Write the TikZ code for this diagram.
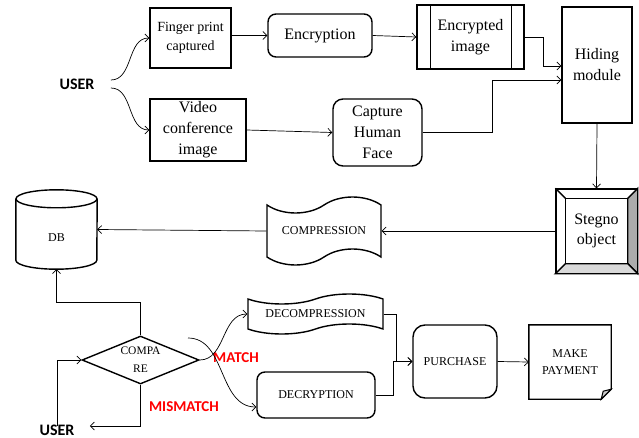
\documentclass[tikz,border=0pt]{standalone}
\usepackage{fontspec}
\setmainfont{Liberation Serif}
\newfontfamily\userfont{Carlito}
\usepackage{tikz}
\usetikzlibrary{shapes,arrows.meta,calc}

\tikzset{
  box/.style={draw, line width=1.4pt, align=center, inner sep=0pt},
  rbox/.style={box, rounded corners=8pt},
  arr/.style={-{Straight Barb[length=4pt,width=8pt]}, line width=0.7pt},
  word/.style={font=\userfont\bfseries\fontsize{16}{18}\selectfont},
  redword/.style={font=\userfont\bfseries\fontsize{15}{17}\selectfont, text=red},
  big/.style={font=\fontsize{16}{21}\selectfont},
  small/.style={font=\fontsize{12}{17}\selectfont},
}

\begin{document}
\begin{tikzpicture}[x=1pt,y=-1pt]
\useasboundingbox (0,0) rectangle (639,438);
% Parameters
\def\bev{10} % bevel of the stegno box
\def\fold{10} % folded corner of the payment note
\def\cap{9} % half height of the cylinder lid

% Users
\node[word] (usera) at (77,84) {USER};
\node[word] (userb) at (57,430) {USER};

% Top row
\node[box, minimum width=81pt, minimum height=60pt, font=\fontsize{14}{19}\selectfont] (finger) at (190.5,38) {Finger print\\captured};
\node[rbox, minimum width=104pt, minimum height=43pt, big] (encr) at (320,35.5) {Encryption};
\node[box, minimum width=107pt, minimum height=64pt, big] (encimg) at (470.5,37) {Encrypted\\image};
\draw[line width=1.4pt] ([xshift=14pt]encimg.north west) -- ([xshift=14pt]encimg.south west);
\draw[line width=1.4pt] ([xshift=-13pt]encimg.north east) -- ([xshift=-13pt]encimg.south east);
\node[box, minimum width=70pt, minimum height=116pt, big] (hiding) at (597,65) {Hiding\\module};

% Second row
\node[box, minimum width=96pt, minimum height=62pt, big] (video) at (198,130) {Video\\conference\\image};
\node[rbox, rounded corners=10pt, minimum width=89pt, minimum height=67pt, big] (face) at (377.5,132.5) {Capture\\Human\\Face};

% Stegno object with bevel
\node[box, minimum width=81pt, minimum height=84pt, font=\fontsize{16}{20}\selectfont] (stegno) at (596.5,231) {Stegno\\object};
\filldraw[line width=1.4pt, fill=gray!65] (stegno.north east) -- (stegno.south east) -- ++(-\bev,-\bev) -- ($(stegno.north east)+(-\bev,\bev)$) -- cycle;
\filldraw[line width=1.4pt, fill=gray!30] (stegno.south west) -- (stegno.south east) -- ++(-\bev,-\bev) -- ($(stegno.south west)+(\bev,-\bev)$) -- cycle;
\draw[line width=1.4pt] (stegno.north west) -- ++(\bev,\bev);
\draw[line width=1.4pt] ($(stegno.north west)+(\bev,\bev)$) rectangle ($(stegno.south east)+(-\bev,-\bev)$);

% Storage row
\node[box, tape, tape bend height=16pt, minimum width=114pt, minimum height=68pt, small] (compr) at (324,231) {COMPRESSION};
\node[inner sep=0pt, minimum width=81pt, minimum height=79pt, text height=24pt, text depth=0pt, small] (db) at (56.5,229.5) {DB};
\draw[line width=1.4pt] ($(db.north)+(0,\cap)$) ellipse [x radius=40.5pt, y radius=\cap pt];
\draw[line width=1.4pt] ($(db.north west)+(0,\cap)$) -- ($(db.south west)+(0,-\cap)$) arc[start angle=180, end angle=360, x radius=40.5pt, y radius=\cap pt] -- ($(db.north east)+(0,\cap)$);

% Bottom part
\node[box, diamond, aspect=2.4, minimum width=117pt, minimum height=48pt, font=\fontsize{11.5}{18}\selectfont] (cmp) at (140.5,360) {COMPA\\RE};
\node[box, tape, tape bend height=10pt, minimum width=135pt, minimum height=40pt, small] (decomp) at (315.5,314) {DECOMPRESSION};
\node[rbox, minimum width=118pt, minimum height=46pt, small] (decr) at (316,395) {DECRYPTION};
\node[rbox, rounded corners=12pt, minimum width=84pt, minimum height=73pt, small] (buy) at (455,361.5) {PURCHASE};
\node[align=center, inner sep=0pt, minimum width=82pt, minimum height=74pt, small] (pay) at (570,362) {MAKE\\PAYMENT};
\draw[line width=1.4pt] (pay.north west) -- (pay.north east) -- ($(pay.south east)+(0,-\fold)$) -- ($(pay.south east)+(-\fold,0)$) -- (pay.south west) -- cycle;
\filldraw[line width=1pt, fill=gray!40] ($(pay.south east)+(0,-\fold)$) -- ($(pay.south east)+(-8,-8)$) -- ($(pay.south east)+(-\fold,0)$) -- cycle;

% Labels
\node[redword] (match) at (236,358) {MATCH};
\node[redword] (mismatch) at (184,407) {MISMATCH};
\coordinate (mfork) at (188,338);

% Connectors, top
\draw[arr] ([xshift=13pt,yshift=4pt]usera.east) to[out=0,in=180] (finger.west);
\draw[arr] ([xshift=13pt,yshift=-4pt]usera.east) to[out=0,in=180] (video.west);
\draw[arr] (finger.east |- encr.west) -- (encr.west);
\draw[arr] (encr.east) -- (encimg.west);
\draw[arr] (encimg.east) -- ++(19,0) |- ([yshift=-1pt]hiding.west);
\draw[arr] (video.east) -- (face.west);
\draw[arr] (face.east) -- ++(70,0) |- ([yshift=-15pt]hiding.west);
\draw[arr] (hiding.south) -- (stegno.north);
\draw[arr] (stegno.west) -- (compr.east);
\draw[arr] (compr.west) -- (db.east);

% Connectors, bottom
\draw[arr] (cmp.north) -- ++(0,-33) -| (db.south);
\draw[arr] (cmp.south) |- ([xshift=12pt,yshift=4pt]userb.east);
\draw[arr] ([yshift=-5pt]userb.north) |- (cmp.west);
\draw[arr] (cmp.east) to[out=0,in=180] (decomp.west);
\draw[arr] (mfork) to[out=0,in=180] ([yshift=-12pt]decr.west);
\draw[arr] (decomp.east) -- ++(13,0) |- (buy.west);
\draw[arr] (decr.east) -- ++(18,0) |- (buy.west);
\draw[arr] (buy.east) -- (pay.west);
\end{tikzpicture}
\end{document}
